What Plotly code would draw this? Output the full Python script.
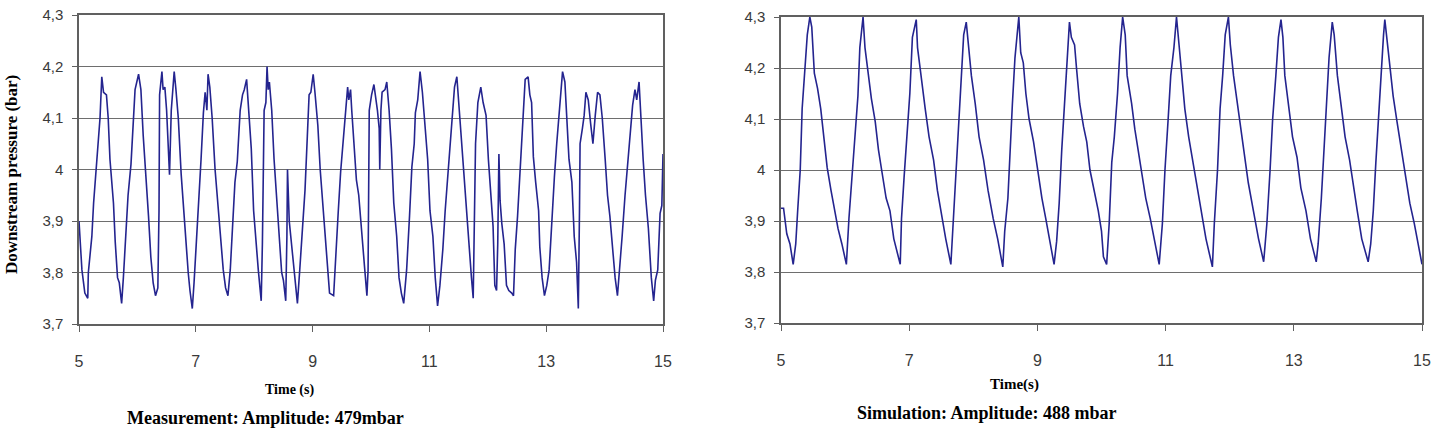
import plotly.graph_objects as go

# ---------------- data ----------------
meas_t = [5.00, 5.05, 5.10, 5.15, 5.16, 5.22, 5.25, 5.29, 5.33, 5.36, 5.39, 5.42, 5.47, 5.50, 5.53, 5.59, 5.62, 5.66, 5.69, 5.73,
          5.76, 5.80, 5.84, 5.89, 5.93, 5.96, 6.02, 6.06, 6.10, 6.14, 6.19, 6.23, 6.27, 6.31, 6.35, 6.37, 6.38, 6.42, 6.44, 6.47,
          6.50, 6.53, 6.55, 6.58, 6.60, 6.63, 6.66, 6.70, 6.75, 6.79, 6.83, 6.87, 6.90, 6.94, 6.97, 7.01, 7.05, 7.09, 7.13, 7.16,
          7.19, 7.21, 7.24, 7.28, 7.33, 7.39, 7.43, 7.47, 7.51, 7.55, 7.59, 7.63, 7.67, 7.71, 7.76, 7.80, 7.83, 7.87, 7.90, 7.95,
          7.99, 8.03, 8.07, 8.12, 8.14, 8.17, 8.20, 8.22, 8.24, 8.26, 8.30, 8.34, 8.38, 8.42, 8.47, 8.50, 8.54, 8.56, 8.57, 8.60,
          8.64, 8.68, 8.71, 8.74, 8.78, 8.82, 8.87, 8.91, 8.94, 8.97, 9.01, 9.04, 9.09, 9.13, 9.17, 9.21, 9.26, 9.29, 9.36, 9.40,
          9.44, 9.48, 9.53, 9.57, 9.60, 9.62, 9.65, 9.67, 9.71, 9.75, 9.79, 9.84, 9.89, 9.93, 9.95, 9.97, 10.01, 10.05, 10.09, 10.11,
          10.14, 10.15, 10.17, 10.19, 10.24, 10.27, 10.31, 10.35, 10.39, 10.44, 10.48, 10.52, 10.56, 10.61, 10.66, 10.70, 10.74, 10.76, 10.80, 10.84,
          10.88, 10.92, 10.97, 11.01, 11.06, 11.10, 11.14, 11.18, 11.23, 11.27, 11.31, 11.35, 11.39, 11.43, 11.47, 11.51, 11.55, 11.60, 11.64, 11.68,
          11.72, 11.75, 11.77, 11.79, 11.83, 11.88, 11.92, 11.97, 12.01, 12.05, 12.09, 12.12, 12.15, 12.17, 12.19, 12.21, 12.24, 12.28, 12.32, 12.36,
          12.41, 12.44, 12.47, 12.51, 12.55, 12.60, 12.64, 12.69, 12.72, 12.75, 12.78, 12.82, 12.87, 12.89, 12.93, 12.97, 13.01, 13.05, 13.09, 13.14,
          13.18, 13.21, 13.24, 13.28, 13.32, 13.35, 13.39, 13.44, 13.48, 13.52, 13.55, 13.57, 13.58, 13.62, 13.65, 13.68, 13.72, 13.76, 13.80, 13.84,
          13.88, 13.92, 13.96, 14.01, 14.05, 14.09, 14.14, 14.18, 14.22, 14.26, 14.30, 14.35, 14.39, 14.44, 14.48, 14.52, 14.55, 14.59, 14.62, 14.66,
          14.70, 14.75, 14.80, 14.84, 14.87, 14.91, 14.95, 14.98, 15.00]
meas_p = [3.900, 3.805, 3.760, 3.750, 3.800, 3.870, 3.935, 4.000, 4.050, 4.100, 4.180, 4.150, 4.145, 4.100, 4.020, 3.935, 3.860, 3.790, 3.780, 3.740,
          3.790, 3.860, 3.950, 4.010, 4.085, 4.155, 4.185, 4.155, 4.065, 4.000, 3.910, 3.830, 3.780, 3.755, 3.770, 3.920, 4.145, 4.190, 4.155, 4.160,
          4.115, 4.040, 3.990, 4.115, 4.155, 4.190, 4.155, 4.100, 3.990, 3.920, 3.860, 3.800, 3.765, 3.730, 3.780, 3.860, 3.920, 4.020, 4.110, 4.150,
          4.115, 4.185, 4.160, 4.100, 4.000, 3.920, 3.860, 3.805, 3.770, 3.755, 3.805, 3.890, 3.975, 4.015, 4.115, 4.145, 4.155, 4.175, 4.115, 4.040,
          3.920, 3.855, 3.805, 3.745, 3.855, 4.115, 4.130, 4.200, 4.155, 4.170, 4.115, 4.020, 3.955, 3.885, 3.800, 3.785, 3.745, 3.870, 4.000, 3.900,
          3.855, 3.805, 3.780, 3.740, 3.805, 3.870, 3.960, 4.065, 4.145, 4.150, 4.185, 4.150, 4.085, 4.000, 3.940, 3.870, 3.805, 3.760, 3.755, 3.845,
          3.920, 3.995, 4.065, 4.115, 4.160, 4.135, 4.155, 4.115, 4.040, 3.980, 3.950, 3.870, 3.810, 3.755, 3.805, 4.115, 4.145, 4.165, 4.135, 4.115,
          4.080, 4.000, 4.115, 4.150, 4.155, 4.170, 4.115, 4.040, 3.935, 3.870, 3.790, 3.760, 3.740, 3.805, 3.910, 4.005, 4.050, 4.110, 4.135, 4.190,
          4.150, 4.085, 4.020, 3.920, 3.870, 3.790, 3.735, 3.775, 3.845, 3.920, 3.985, 4.050, 4.115, 4.160, 4.180, 4.115, 4.065, 3.985, 3.920, 3.845,
          3.790, 3.750, 3.890, 4.050, 4.130, 4.160, 4.130, 4.105, 4.020, 3.950, 3.890, 3.775, 3.765, 3.855, 4.030, 3.940, 3.895, 3.855, 3.775, 3.765,
          3.760, 3.755, 3.845, 3.910, 3.985, 4.100, 4.175, 4.180, 4.145, 4.130, 4.025, 3.975, 3.920, 3.850, 3.790, 3.755, 3.775, 3.805, 3.890, 3.985,
          4.050, 4.090, 4.145, 4.190, 4.170, 4.100, 4.020, 3.975, 3.870, 3.820, 3.730, 3.920, 4.050, 4.080, 4.105, 4.150, 4.135, 4.090, 4.050, 4.105,
          4.150, 4.145, 4.100, 4.020, 3.950, 3.910, 3.845, 3.790, 3.755, 3.805, 3.870, 3.950, 4.000, 4.065, 4.125, 4.155, 4.135, 4.170, 4.100, 4.020,
          3.950, 3.885, 3.790, 3.745, 3.785, 3.805, 3.915, 3.930, 4.030]

sim_t = [5.00, 5.04, 5.09, 5.14, 5.19, 5.23, 5.26, 5.30, 5.33, 5.37, 5.41, 5.45, 5.48, 5.52, 5.57, 5.62, 5.68, 5.72, 5.78, 5.84,
         5.89, 5.95, 6.02, 6.06, 6.10, 6.15, 6.20, 6.23, 6.28, 6.31, 6.36, 6.41, 6.47, 6.52, 6.57, 6.64, 6.70, 6.76, 6.86, 6.88,
         6.92, 6.96, 7.01, 7.05, 7.11, 7.13, 7.18, 7.25, 7.31, 7.38, 7.44, 7.51, 7.57, 7.65, 7.69, 7.74, 7.78, 7.82, 7.85, 7.89,
         7.92, 7.97, 8.03, 8.09, 8.16, 8.23, 8.31, 8.38, 8.46, 8.49, 8.54, 8.57, 8.61, 8.65, 8.71, 8.74, 8.78, 8.82, 8.87, 8.94,
         9.00, 9.07, 9.13, 9.20, 9.26, 9.30, 9.34, 9.38, 9.42, 9.46, 9.50, 9.53, 9.58, 9.61, 9.66, 9.72, 9.77, 9.82, 9.89, 9.95,
         10.00, 10.03, 10.08, 10.12, 10.16, 10.20, 10.25, 10.29, 10.33, 10.37, 10.40, 10.47, 10.52, 10.57, 10.63, 10.69, 10.76, 10.82, 10.90, 10.95,
         10.99, 11.04, 11.08, 11.13, 11.17, 11.21, 11.25, 11.30, 11.36, 11.42, 11.49, 11.55, 11.63, 11.73, 11.76, 11.81, 11.85, 11.89, 11.93, 11.98,
         12.01, 12.06, 12.11, 12.16, 12.22, 12.29, 12.37, 12.45, 12.53, 12.58, 12.63, 12.67, 12.72, 12.76, 12.80, 12.83, 12.86, 12.91, 12.98, 13.05,
         13.11, 13.19, 13.26, 13.35, 13.38, 13.43, 13.46, 13.51, 13.55, 13.60, 13.63, 13.68, 13.73, 13.80, 13.87, 13.93, 13.99, 14.06, 14.16, 14.20,
         14.24, 14.28, 14.32, 14.36, 14.40, 14.42, 14.46, 14.50, 14.55, 14.61, 14.68, 14.75, 14.81, 14.88, 14.94, 15.00]
sim_p = [3.925, 3.925, 3.875, 3.855, 3.815, 3.855, 3.920, 4.000, 4.120, 4.200, 4.265, 4.300, 4.280, 4.190, 4.160, 4.120, 4.055, 4.005, 3.960, 3.920,
         3.885, 3.855, 3.815, 3.905, 3.975, 4.055, 4.145, 4.240, 4.300, 4.240, 4.185, 4.140, 4.095, 4.040, 4.000, 3.945, 3.920, 3.865, 3.815, 3.905,
         3.985, 4.055, 4.150, 4.260, 4.295, 4.240, 4.185, 4.120, 4.065, 4.020, 3.960, 3.905, 3.865, 3.815, 3.905, 4.000, 4.100, 4.200, 4.265, 4.290,
         4.250, 4.185, 4.130, 4.065, 4.020, 3.960, 3.905, 3.865, 3.810, 3.880, 3.945, 4.040, 4.130, 4.220, 4.300, 4.230, 4.210, 4.150, 4.100, 4.055,
         4.000, 3.945, 3.905, 3.860, 3.815, 3.860, 3.935, 4.040, 4.130, 4.205, 4.290, 4.260, 4.245, 4.200, 4.130, 4.085, 4.055, 4.000, 3.955, 3.920,
         3.880, 3.830, 3.815, 3.895, 4.015, 4.065, 4.150, 4.240, 4.300, 4.265, 4.185, 4.130, 4.080, 4.040, 3.995, 3.945, 3.905, 3.865, 3.815, 3.895,
         4.000, 4.100, 4.185, 4.240, 4.300, 4.245, 4.185, 4.120, 4.065, 4.020, 3.965, 3.920, 3.865, 3.810, 3.895, 4.000, 4.120, 4.185, 4.265, 4.300,
         4.245, 4.185, 4.140, 4.085, 4.035, 3.975, 3.920, 3.865, 3.820, 3.895, 4.000, 4.100, 4.185, 4.260, 4.295, 4.260, 4.185, 4.130, 4.065, 4.025,
         3.965, 3.920, 3.865, 3.820, 3.855, 3.945, 4.015, 4.120, 4.220, 4.290, 4.265, 4.185, 4.130, 4.065, 4.020, 3.965, 3.920, 3.865, 3.820, 3.855,
         3.920, 4.015, 4.100, 4.200, 4.265, 4.295, 4.250, 4.205, 4.145, 4.095, 4.040, 3.985, 3.935, 3.895, 3.855, 3.815]

x_ticks = [5, 7, 9, 11, 13, 15]
y_ticks = [3.7, 3.8, 3.9, 4.0, 4.1, 4.2, 4.3]
y_tick_text = ["3,7", "3,8", "3,9", "4", "4,1", "4,2", "4,3"]

left_title = "Measurement: Amplitude: 479mbar"
right_title = "Simulation: Amplitude: 488 mbar"
y_title = "Downstream pressure (bar)"
left_xtitle = "Time (s)"
right_xtitle = "Time(s)"

# ---------------- figure ----------------
W, H = 1436, 429
LINE = "#24248f"
GRID = "#6e6e6e"
AXIS = "#606060"
TICKFONT = dict(family="Liberation Sans, Arial, sans-serif", size=15, color="#3a3a3a")
SERIF = "Liberation Serif, Times New Roman, serif"


def px_x(p):
    return p / W


def px_y(p):
    return 1 - p / H


fig = go.Figure()
fig.add_trace(go.Scatter(x=meas_t, y=meas_p, mode="lines", line=dict(color=LINE, width=1.6),
                         xaxis="x", yaxis="y", showlegend=False, hoverinfo="skip"))
fig.add_trace(go.Scatter(x=sim_t, y=sim_p, mode="lines", line=dict(color=LINE, width=1.6),
                         xaxis="x2", yaxis="y2", showlegend=False, hoverinfo="skip"))

xcommon = dict(range=[5, 15], tickmode="array", tickvals=x_ticks, ticks="outside", ticklen=6,
               tickcolor=AXIS, showline=True, linecolor=AXIS, linewidth=1.5, mirror=True,
               showgrid=False, zeroline=False, tickfont=dict(TICKFONT, size=16),
               ticklabelstandoff=16, fixedrange=True, automargin=False)
ycommon = dict(range=[3.7, 4.3], tickmode="array", tickvals=y_ticks, ticktext=y_tick_text,
               ticks="outside", ticklen=5, tickcolor=AXIS, showline=True, linecolor=AXIS,
               linewidth=1.5, mirror=True, showgrid=True, gridcolor=GRID, gridwidth=1.2,
               zeroline=False, tickfont=TICKFONT, ticklabelstandoff=6, fixedrange=True,
               automargin=False)

fig.update_layout(
    width=W, height=H, autosize=False,
    margin=dict(l=0, r=0, t=0, b=0, pad=0),
    paper_bgcolor="white", plot_bgcolor="white",
    xaxis=dict(xcommon, domain=[px_x(79), px_x(663)], anchor="y"),
    yaxis=dict(ycommon, domain=[px_y(324), px_y(15)], anchor="x"),
    xaxis2=dict(xcommon, domain=[px_x(781), px_x(1422)], anchor="y2"),
    yaxis2=dict(ycommon, domain=[px_y(323), px_y(17)], anchor="x2"),
)

ann = [
    dict(text=y_title, x=px_x(11), y=px_y(175), textangle=-90, size=17),
    dict(text=left_xtitle, x=px_x(289), y=px_y(390), size=14),
    dict(text=left_title, x=px_x(265), y=px_y(418), size=18),
    dict(text=right_xtitle, x=px_x(1014), y=px_y(384), size=15),
    dict(text=right_title, x=px_x(987), y=px_y(413), size=18),
]
for a in ann:
    fig.add_annotation(text=a["text"], x=a["x"], y=a["y"], xref="paper", yref="paper",
                       xanchor="center", yanchor="middle", showarrow=False,
                       textangle=a.get("textangle", 0),
                       font=dict(family=SERIF, size=a["size"], color="black", weight="bold"))

fig.write_html("out.html")
